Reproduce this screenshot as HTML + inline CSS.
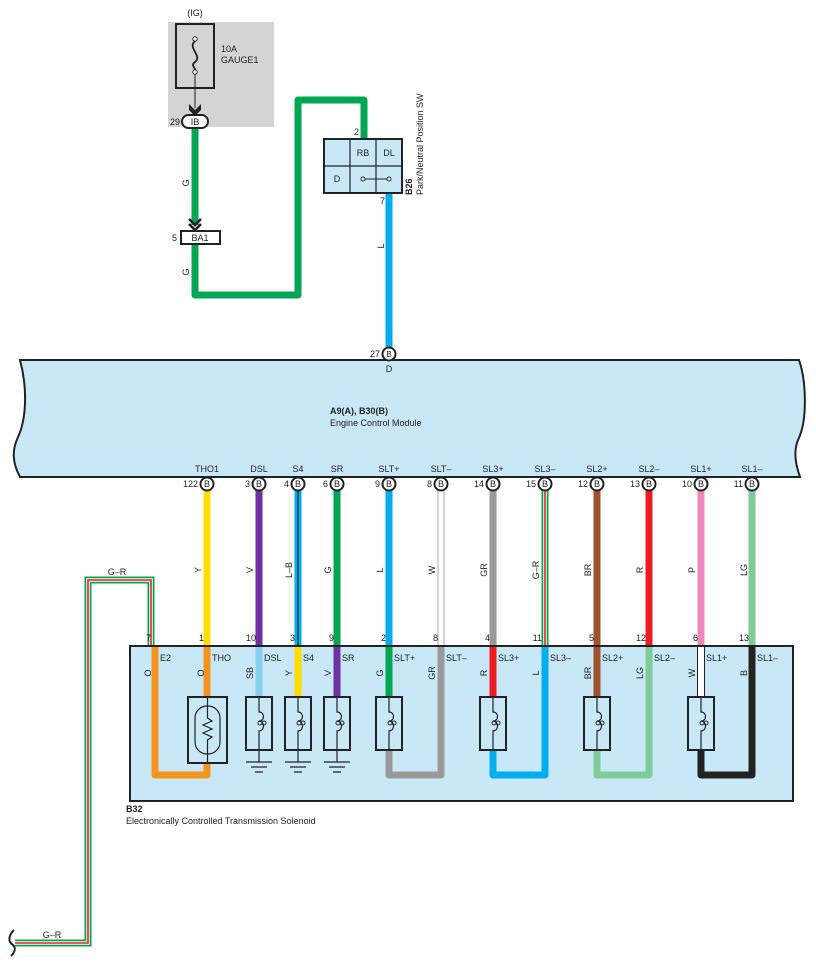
<!DOCTYPE html>
<html><head><meta charset="utf-8"><style>
html,body{margin:0;padding:0;background:#fff}
svg{display:block}
text{font-family:"Liberation Sans",sans-serif;font-size:9px;fill:#222}
</style></head><body>
<svg width="816" height="967" viewBox="0 0 816 967" xmlns="http://www.w3.org/2000/svg">
<rect x="168" y="22" width="106" height="105" fill="#d4d4d6"/>
<text x="195" y="16" text-anchor="middle">(IG)</text>
<rect x="176" y="24" width="38" height="64" fill="none" stroke="#222" stroke-width="2"/>
<circle cx="195" cy="39" r="2.2" fill="#fff" stroke="#222"/>
<circle cx="195" cy="72" r="2.2" fill="#fff" stroke="#222"/>
<path d="M195 41 C187 48,203 56,195 62 C190 66,196 68,195 70" fill="none" stroke="#222" stroke-width="1.8"/>
<line x1="195" y1="74" x2="195" y2="108" stroke="#222" stroke-width="1"/>
<path d="M189 104 L195 110 L201 104 L201 110 L195 116 L189 110Z" fill="#222"/>
<text x="221" y="52">10A</text>
<text x="221" y="63">GAUGE1</text>
<path d="M195 128 V225 M195 244 V295 H298 V100 H364 V139" fill="none" stroke="#00a651" stroke-width="7" stroke-linejoin="round"/>
<rect x="182" y="115" width="26" height="13" rx="6.5" fill="#fff" stroke="#222" stroke-width="2"/>
<text x="195" y="125" text-anchor="middle">IB</text>
<text x="170" y="125">29</text>
<path d="M189 219 L195 225 L201 219 M189 224 L195 230 L201 224" fill="none" stroke="#222" stroke-width="2.6"/>
<rect x="181" y="231" width="39" height="13" fill="#fff" stroke="#222" stroke-width="2"/>
<text x="200" y="241" text-anchor="middle">BA1</text>
<text x="172" y="241">5</text>
<text transform="translate(189,183) rotate(-90)" text-anchor="middle">G</text>
<text transform="translate(189,272) rotate(-90)" text-anchor="middle">G</text>
<rect x="324" y="139" width="78" height="54" fill="#c8e8f8" stroke="#222" stroke-width="2"/>
<path d="M350 139V193 M376 139V193 M324 166H402" stroke="#222" stroke-width="1.2"/>
<text x="363" y="156" text-anchor="middle">RB</text>
<text x="389" y="156" text-anchor="middle">DL</text>
<text x="337" y="182" text-anchor="middle">D</text>
<line x1="363" y1="179" x2="389" y2="179" stroke="#222"/>
<circle cx="363" cy="179" r="2" fill="#fff" stroke="#222"/>
<circle cx="389" cy="179" r="2" fill="#fff" stroke="#222"/>
<text x="354" y="135">2</text>
<text x="380" y="204">7</text>
<text transform="translate(412,195) rotate(-90)" style="font-weight:bold">B26</text>
<text transform="translate(423,195) rotate(-90)">Park/Neutral Position SW</text>
<line x1="389" y1="194" x2="389" y2="347" stroke="#00aeef" stroke-width="7"/>
<text transform="translate(384,246) rotate(-90)" text-anchor="middle">L</text>
<path d="M20 360 H799 C806 380,808 420,798 440 C793 452,796 466,800 477 H20 C12 462,12 450,18 437 C26 420,28 390,20 360Z" fill="#c8e8f8" stroke="#222" stroke-width="2"/>
<circle cx="389" cy="354" r="6.5" fill="#fff" stroke="#222" stroke-width="2"/>
<text x="389" y="357" text-anchor="middle" style="font-size:8px">B</text>
<text x="380" y="357" text-anchor="end">27</text>
<text x="389" y="372" text-anchor="middle">D</text>
<text x="330" y="414" style="font-weight:bold">A9(A), B30(B)</text>
<text x="330" y="426">Engine Control Module</text>
<path d="M151 646 V580 H88 V943 H15" fill="none" stroke="#00a651" stroke-width="7"/>
<path d="M151 646 V580 H88 V943 H15" fill="none" stroke="#fff" stroke-width="3.5"/>
<path d="M151 646 V580 H88 V943 H15" fill="none" stroke="#ed1c24" stroke-width="1.6"/>
<path d="M14 930 C8 936,8 942,13 945 C16 948,15 952,11 956" fill="none" stroke="#222" stroke-width="2"/>
<text x="117" y="575" text-anchor="middle">G–R</text>
<text x="52" y="938" text-anchor="middle">G–R</text>
<g stroke-width="7" fill="none">
<line x1="207" y1="490" x2="207" y2="646" stroke="#ffdd00"/>
<line x1="259" y1="490" x2="259" y2="646" stroke="#7030a0"/>
<line x1="298" y1="490" x2="298" y2="646" stroke="#00aeef"/>
<line x1="337" y1="490" x2="337" y2="646" stroke="#00a651"/>
<line x1="389" y1="490" x2="389" y2="646" stroke="#00aeef"/>
<line x1="441" y1="490" x2="441" y2="646" stroke="#aaa"/>
<line x1="493" y1="490" x2="493" y2="646" stroke="#999"/>
<line x1="545" y1="490" x2="545" y2="646" stroke="#00a651"/>
<line x1="597" y1="490" x2="597" y2="646" stroke="#a0522d"/>
<line x1="649" y1="490" x2="649" y2="646" stroke="#ed1c24"/>
<line x1="701" y1="490" x2="701" y2="646" stroke="#f088c0"/>
<line x1="752" y1="490" x2="752" y2="646" stroke="#80cc99"/>
</g>
<line x1="298" y1="490" x2="298" y2="646" stroke="#222" stroke-width="1.2"/>
<line x1="441" y1="490" x2="441" y2="646" stroke="#fff" stroke-width="5"/>
<line x1="545" y1="490" x2="545" y2="646" stroke="#fff" stroke-width="3.5"/>
<line x1="545" y1="490" x2="545" y2="646" stroke="#ed1c24" stroke-width="1.6"/>
<g text-anchor="middle">
<text x="207" y="472">THO1</text><text x="259" y="472">DSL</text><text x="298" y="472">S4</text><text x="337" y="472">SR</text><text x="389" y="472">SLT+</text><text x="441" y="472">SLT–</text><text x="493" y="472">SL3+</text><text x="545" y="472">SL3–</text><text x="597" y="472">SL2+</text><text x="649" y="472">SL2–</text><text x="701" y="472">SL1+</text><text x="752" y="472">SL1–</text>
</g>
<g fill="#fff" stroke="#222" stroke-width="2">
<circle cx="207" cy="484" r="6.5"/><circle cx="259" cy="484" r="6.5"/><circle cx="298" cy="484" r="6.5"/><circle cx="337" cy="484" r="6.5"/><circle cx="389" cy="484" r="6.5"/><circle cx="441" cy="484" r="6.5"/><circle cx="493" cy="484" r="6.5"/><circle cx="545" cy="484" r="6.5"/><circle cx="597" cy="484" r="6.5"/><circle cx="649" cy="484" r="6.5"/><circle cx="701" cy="484" r="6.5"/><circle cx="752" cy="484" r="6.5"/>
</g>
<g style="font-size:8px" text-anchor="middle">
<text x="207" y="487">B</text><text x="259" y="487">B</text><text x="298" y="487">B</text><text x="337" y="487">B</text><text x="389" y="487">B</text><text x="441" y="487">B</text><text x="493" y="487">B</text><text x="545" y="487">B</text><text x="597" y="487">B</text><text x="649" y="487">B</text><text x="701" y="487">B</text><text x="752" y="487">B</text>
</g>
<g text-anchor="end">
<text x="198" y="487">122</text><text x="250" y="487">3</text><text x="289" y="487">4</text><text x="328" y="487">6</text><text x="380" y="487">9</text><text x="432" y="487">8</text><text x="484" y="487">14</text><text x="536" y="487">15</text><text x="588" y="487">12</text><text x="640" y="487">13</text><text x="692" y="487">10</text><text x="743" y="487">11</text>
</g>
<g text-anchor="middle">
<text transform="translate(201,570) rotate(-90)">Y</text>
<text transform="translate(253,570) rotate(-90)">V</text>
<text transform="translate(292,570) rotate(-90)">L–B</text>
<text transform="translate(331,570) rotate(-90)">G</text>
<text transform="translate(383,570) rotate(-90)">L</text>
<text transform="translate(435,570) rotate(-90)">W</text>
<text transform="translate(487,570) rotate(-90)">GR</text>
<text transform="translate(539,570) rotate(-90)">G–R</text>
<text transform="translate(591,570) rotate(-90)">BR</text>
<text transform="translate(643,570) rotate(-90)">R</text>
<text transform="translate(695,570) rotate(-90)">P</text>
<text transform="translate(747,570) rotate(-90)">LG</text>
</g>
<g text-anchor="end">
<text x="151" y="641">7</text><text x="204" y="641">1</text><text x="256" y="641">10</text><text x="295" y="641">3</text><text x="334" y="641">9</text><text x="386" y="641">2</text><text x="438" y="641">8</text><text x="490" y="641">4</text><text x="542" y="641">11</text><text x="594" y="641">5</text><text x="646" y="641">12</text><text x="698" y="641">6</text><text x="749" y="641">13</text>
</g>
<rect x="130" y="646" width="663" height="155" fill="#c8e8f8" stroke="#222" stroke-width="2"/>
<g fill="none" stroke-width="7" stroke-linejoin="round">
<path d="M155 647 V775 H207 V763" stroke="#f7941d"/>
<path d="M207 647 V697" stroke="#f7941d"/>
<path d="M259 647 V697" stroke="#88d0f0"/>
<path d="M298 647 V697" stroke="#ffdd00"/>
<path d="M337 647 V697" stroke="#7030a0"/>
<path d="M389 647 V697" stroke="#00a651"/>
<path d="M389 750 V775 H441 V647" stroke="#999"/>
<path d="M493 647 V697" stroke="#ed1c24"/>
<path d="M493 750 V775 H545 V647" stroke="#00aeef"/>
<path d="M597 647 V697" stroke="#a0522d"/>
<path d="M597 750 V775 H649 V647" stroke="#80cc99"/>
<path d="M701 647 V697" stroke="#fff"/>
<path d="M701 750 V775 H752 V647" stroke="#222"/>
</g>
<path d="M697.5 647 V697 M704.5 647 V697" stroke="#222" stroke-width="1"/>
<g>
<text x="160" y="661">E2</text><text x="212" y="661">THO</text><text x="264" y="661">DSL</text><text x="303" y="661">S4</text><text x="342" y="661">SR</text><text x="394" y="661">SLT+</text><text x="446" y="661">SLT–</text><text x="498" y="661">SL3+</text><text x="550" y="661">SL3–</text><text x="602" y="661">SL2+</text><text x="654" y="661">SL2–</text><text x="706" y="661">SL1+</text><text x="757" y="661">SL1–</text>
</g>
<g text-anchor="middle">
<text transform="translate(151,673) rotate(-90)">O</text>
<text transform="translate(204,673) rotate(-90)">O</text>
<text transform="translate(253,673) rotate(-90)">SB</text>
<text transform="translate(292,673) rotate(-90)">Y</text>
<text transform="translate(331,673) rotate(-90)">V</text>
<text transform="translate(383,673) rotate(-90)">G</text>
<text transform="translate(435,673) rotate(-90)">GR</text>
<text transform="translate(487,673) rotate(-90)">R</text>
<text transform="translate(539,673) rotate(-90)">L</text>
<text transform="translate(591,673) rotate(-90)">BR</text>
<text transform="translate(643,673) rotate(-90)">LG</text>
<text transform="translate(695,673) rotate(-90)">W</text>
<text transform="translate(747,673) rotate(-90)">B</text>
</g>
<rect x="188" y="697" width="39" height="66" fill="#c8e8f8" stroke="#222" stroke-width="2"/>
<rect x="195" y="706" width="25" height="48" rx="12" fill="none" stroke="#222" stroke-width="1.2"/>
<path d="M207.5 697 V718 L212 721 L203 725 L212 729 L203 733 L212 737 L207.5 740 V763" fill="none" stroke="#222" stroke-width="1.2"/>
<g fill="none" stroke="#222">
<g id="c1">
<rect x="246" y="697" width="26" height="53" fill="#c8e8f8" stroke-width="2"/>
<path d="M259 697 V712 C265 712,265 721,259 721 C265 721,265 731,259 731 V750" stroke-width="1.2"/>
<circle cx="260" cy="723" r="2" stroke-width="1"/><circle cx="264" cy="723" r="2" stroke-width="1"/>
</g>
<use href="#c1" x="39"/><use href="#c1" x="78"/><use href="#c1" x="130"/><use href="#c1" x="234"/><use href="#c1" x="338"/><use href="#c1" x="442"/>
<g id="g1" stroke-width="1.2">
<path d="M259 750 V762 M246 762 H272 M251 767 H267 M255 772 H263"/>
</g>
<use href="#g1" x="39"/><use href="#g1" x="78"/>
</g>
<text x="126" y="812" style="font-weight:bold">B32</text>
<text x="126" y="824">Electronically Controlled Transmission Solenoid</text>
</svg>
</body></html>
